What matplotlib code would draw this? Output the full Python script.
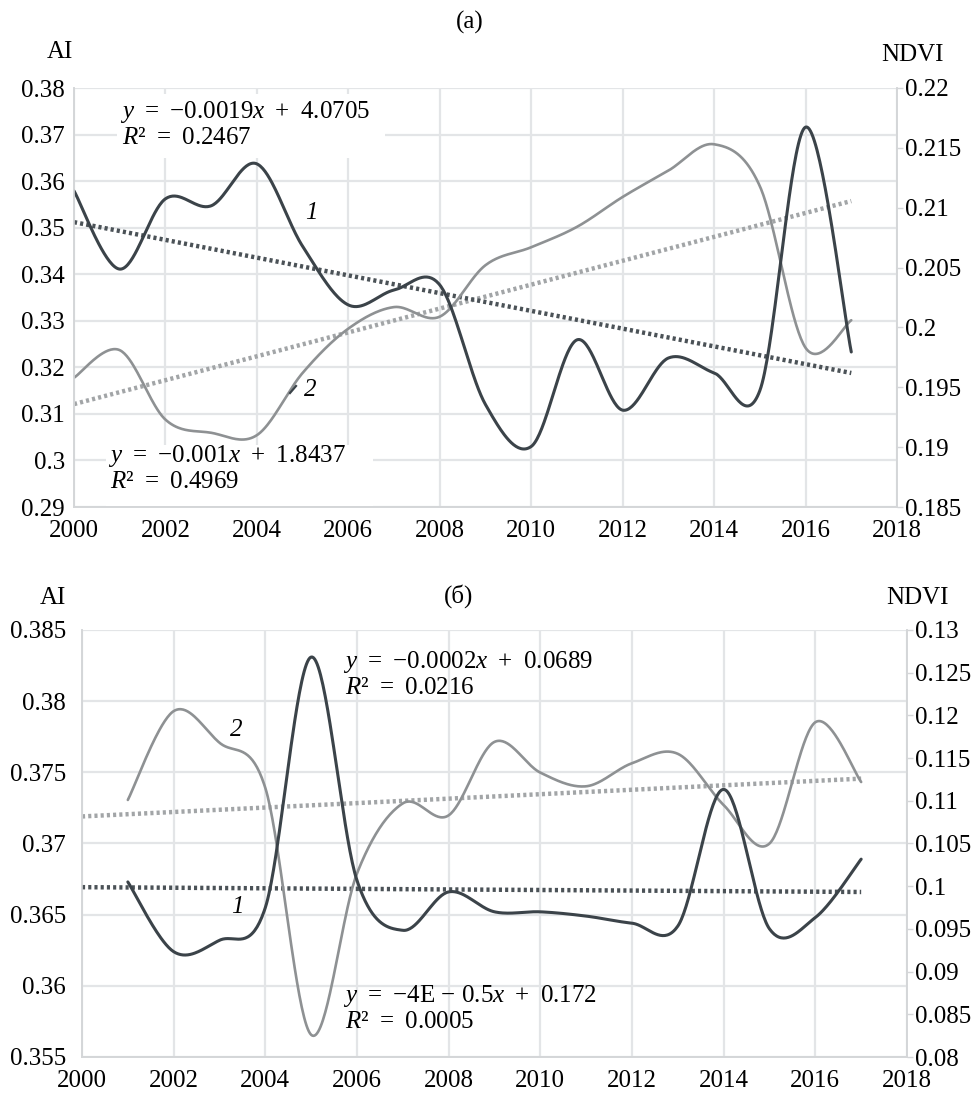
import numpy as np
import matplotlib
matplotlib.use("Agg")
import matplotlib.pyplot as plt
from matplotlib.lines import Line2D
from matplotlib.patches import Rectangle

plt.rcParams["font.family"] = ["Liberation Serif", "DejaVu Serif"]
plt.rcParams["mathtext.fontset"] = "custom"
plt.rcParams["mathtext.rm"] = "Liberation Serif"
plt.rcParams["mathtext.it"] = "Liberation Serif:italic"

# ---- panel (a) ----
years_a = list(range(2000, 2018))
ai_a = [0.3579, 0.3411, 0.3562, 0.3547, 0.3637, 0.3460, 0.3334, 0.3366, 0.3377,
        0.3120, 0.3030, 0.3259, 0.3108, 0.3220, 0.3188, 0.3150, 0.3716, 0.3233]
ndvi_a = [0.1958, 0.1981, 0.1923, 0.1912, 0.1910, 0.1962, 0.1999, 0.2017, 0.2009,
          0.2052, 0.2067, 0.2084, 0.2109, 0.2131, 0.2153, 0.2118, 0.1983, 0.2006]
ai_ticks_a = [0.29, 0.30, 0.31, 0.32, 0.33, 0.34, 0.35, 0.36, 0.37, 0.38]
ai_ticklabels_a = ["0.29", "0.3", "0.31", "0.32", "0.33", "0.34", "0.35", "0.36", "0.37", "0.38"]
ndvi_ticks_a = [0.185, 0.19, 0.195, 0.2, 0.205, 0.21, 0.215, 0.22]
ndvi_ticklabels_a = ["0.185", "0.19", "0.195", "0.2", "0.205", "0.21", "0.215", "0.22"]

# ---- panel (б) ----
years_b = list(range(2001, 2018))
ai_b = [0.3673, 0.3624, 0.3632, 0.3655, 0.3831, 0.3674, 0.3639, 0.3666, 0.3652,
        0.3652, 0.3649, 0.3644, 0.3642, 0.3738, 0.3640, 0.3648, 0.3689]
ndvi_b = [0.1101, 0.1205, 0.1168, 0.1115, 0.0826, 0.1015, 0.1097, 0.1083, 0.1169,
          0.1133, 0.1117, 0.1144, 0.1155, 0.1095, 0.1050, 0.1192, 0.1122]
ai_ticks_b = [0.355, 0.36, 0.365, 0.37, 0.375, 0.38, 0.385]
ai_ticklabels_b = ["0.355", "0.36", "0.365", "0.37", "0.375", "0.38", "0.385"]
ndvi_ticks_b = [0.08, 0.085, 0.09, 0.095, 0.1, 0.105, 0.11, 0.115, 0.12, 0.125, 0.13]
ndvi_ticklabels_b = ["0.08", "0.085", "0.09", "0.095", "0.1", "0.105", "0.11", "0.115",
                     "0.12", "0.125", "0.13"]

year_ticks = list(range(2000, 2019, 2))

# regression captions (thin spaces widen the gaps around = and +)
TS = "\u2009"
EQ = f" {TS}={TS} "
PL = f" {TS}+{TS} "
eq_ai_a = (f"$y${EQ}−0.0019$x${PL}4.0705", f"$R$²{EQ}0.2467")
eq_ndvi_a = (f"$y${EQ}−0.001$x${PL}1.8437", f"$R$²{EQ}0.4969")
eq_ndvi_b = (f"$y${EQ}−0.0002$x${PL}0.0689", f"$R$²{EQ}0.0216")
eq_ai_b = (f"$y${EQ}−4E − 0.5$x${PL}0.172", f"$R$²{EQ}0.0005")

W, H = 972, 1094
DARK = "#3b4349"
GRAY = "#8e9193"
DARK_TREND = "#4b5257"
GRAY_TREND = "#a2a5a7"
GRID = "#e3e5e7"
SPINE = "#d4d6d8"
FS = 18


def smooth(xs, ys, n=40):
    """Cardinal (Catmull-Rom) Bezier smoothing of a polyline."""
    pts = np.column_stack([np.asarray(xs, float), np.asarray(ys, float)])
    P = np.vstack([pts[0], pts, pts[-1]])
    t = np.linspace(0, 1, n)[:, None]
    out = []
    for i in range(len(pts) - 1):
        p0, p1, p2, p3 = P[i], P[i + 1], P[i + 2], P[i + 3]
        c1 = p1 + (p2 - p0) / 6.0
        c2 = p2 - (p3 - p1) / 6.0
        seg = ((1 - t) ** 3) * p1 + 3 * ((1 - t) ** 2) * t * c1 + 3 * (1 - t) * t ** 2 * c2 + t ** 3 * p2
        out.append(seg if i == 0 else seg[1:])
    s = np.vstack(out)
    return s[:, 0], s[:, 1]


def trend(xs, ys, x0, x1):
    k, b = np.polyfit(xs, ys, 1)
    tx = np.array([x0, x1], float)
    return tx, k * tx + b


def px_rect(l, t, r, b):
    return [l / W, 1 - b / H, (r - l) / W, (b - t) / H]


def ftext(x, y, s, **kw):
    fig.text(x / W, 1 - y / H, s, zorder=5, **kw)


def white_box(l, t, r, b):
    fig.add_artist(Rectangle((l / W, 1 - b / H), (r - l) / W, (b - t) / H,
                             transform=fig.transFigure, facecolor="white",
                             edgecolor="none", zorder=2))


def setup(ax, ax2, ylim, yticks, ylabels, y2lim, y2ticks, y2labels, lpad, xpad):
    ax.set_xlim(2000, 2018)
    ax.set_ylim(*ylim)
    ax2.set_ylim(*y2lim)
    ax.set_xticks(year_ticks)
    ax.set_xticklabels([str(y) for y in year_ticks], fontsize=FS)
    ax.set_yticks(yticks)
    ax.set_yticklabels(ylabels, fontsize=FS)
    ax2.set_yticks(y2ticks)
    ax2.set_yticklabels(y2labels, fontsize=FS)
    ax.grid(True, color=GRID, linewidth=1.6, zorder=0)
    ax.set_axisbelow(True)
    ax.tick_params(axis="y", length=0, pad=lpad)
    ax.tick_params(axis="x", length=0, pad=xpad)
    ax2.tick_params(axis="y", length=4, width=1.0, color=SPINE, pad=2)
    for a in (ax, ax2):
        for sp in a.spines.values():
            sp.set_color(SPINE)
            sp.set_linewidth(1.2)
        a.spines["top"].set_visible(False)


fig = plt.figure(figsize=(W / 100, H / 100), dpi=100)

# ================= panel (a) =================
ax = fig.add_axes(px_rect(74, 88, 897, 507))
ax2 = ax.twinx()
setup(ax, ax2, (0.29, 0.38), ai_ticks_a, ai_ticklabels_a,
      (0.185, 0.22), ndvi_ticks_a, ndvi_ticklabels_a, 6.5, 9.5)

tx, ty = trend(years_a, ndvi_a, 2000, 2017)
ax.plot(tx, ty, color=GRAY_TREND, lw=3.2, ls=(0, (0.7, 0.7)), transform=ax2.transData, zorder=2)
tx, ty = trend(years_a, ai_a, 2000, 2017)
ax.plot(tx, ty, color=DARK_TREND, lw=3.2, ls=(0, (0.7, 0.7)), zorder=3)
sx, sy = smooth(years_a, ndvi_a)
ax.plot(sx, sy, color=GRAY, lw=1.9, transform=ax2.transData, zorder=4, solid_capstyle="round")
sx, sy = smooth(years_a, ai_a)
ax.plot(sx, sy, color=DARK, lw=2.2, zorder=5, solid_capstyle="round")

white_box(117, 94, 385, 158)
white_box(106, 445, 373, 506)
ftext(120, 112, eq_ai_a[0], fontsize=FS, va="center", ha="left")
ftext(122, 138, eq_ai_a[1], fontsize=FS, va="center", ha="left")
ftext(108, 456, eq_ndvi_a[0], fontsize=FS, va="center", ha="left")
ftext(110, 482, eq_ndvi_a[1], fontsize=FS, va="center", ha="left")
ftext(311, 213, "1", fontsize=FS, style="italic", va="center", ha="center")
ftext(310, 390, "2", fontsize=FS, style="italic", va="center", ha="center")
fig.add_artist(Line2D([290 / W, 296 / W], [1 - 393 / H, 1 - 386 / H], color=DARK, lw=1.6))
ftext(470, 22, "(a)", fontsize=FS, va="center", ha="center")
ftext(60, 52, "AI", fontsize=FS, va="center", ha="center")
ftext(912, 55, "NDVI", fontsize=FS, va="center", ha="center")

# ================= panel (б) =================
bx = fig.add_axes(px_rect(82, 630, 907, 1057))
bx2 = bx.twinx()
setup(bx, bx2, (0.355, 0.385), ai_ticks_b, ai_ticklabels_b,
      (0.08, 0.13), ndvi_ticks_b, ndvi_ticklabels_b, 11.5, 9.5)

tx, ty = trend(years_b, ndvi_b, 2000, 2017)
bx.plot(tx, ty, color=GRAY_TREND, lw=3.2, ls=(0, (0.7, 0.7)), transform=bx2.transData, zorder=2)
tx, ty = trend(years_b, ai_b, 2000, 2017)
bx.plot(tx, ty, color=DARK_TREND, lw=3.2, ls=(0, (0.7, 0.7)), zorder=3)
sx, sy = smooth(years_b, ndvi_b)
bx.plot(sx, sy, color=GRAY, lw=1.9, transform=bx2.transData, zorder=4, solid_capstyle="round")
sx, sy = smooth(years_b, ai_b)
bx.plot(sx, sy, color=DARK, lw=2.2, zorder=5, solid_capstyle="round")

ftext(343, 662, eq_ndvi_b[0], fontsize=FS, va="center", ha="left")
ftext(345, 688, eq_ndvi_b[1], fontsize=FS, va="center", ha="left")
ftext(343, 996, eq_ai_b[0], fontsize=FS, va="center", ha="left")
ftext(345, 1022, eq_ai_b[1], fontsize=FS, va="center", ha="left")
ftext(236, 730, "2", fontsize=FS, style="italic", va="center", ha="center")
ftext(237, 907, "1", fontsize=FS, style="italic", va="center", ha="center")
ftext(459, 596, "(б)", fontsize=FS, va="center", ha="center")
ftext(53, 598, "AI", fontsize=FS, va="center", ha="center")
ftext(917, 598, "NDVI", fontsize=FS, va="center", ha="center")

fig.savefig("out.png", dpi=100, facecolor="white")
